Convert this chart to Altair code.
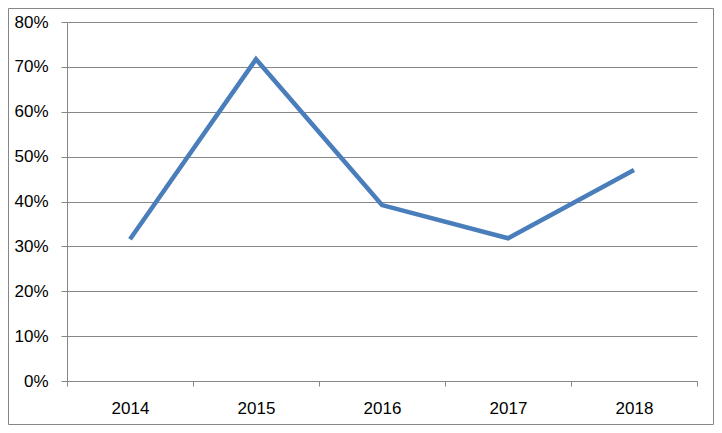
import altair as alt
import pandas as pd

years = ["2014", "2015", "2016", "2017", "2018"]
values = [0.316, 0.717, 0.392, 0.318, 0.470]

df = pd.DataFrame({"year": years, "value": values})

W, H = 630, 359
PL, PT, PR, PB = 59, 14, 17, 44
GRAY = "#868686"
FONT = "Liberation Sans"

x = alt.X(
    "year:N",
    sort=years,
    bandPosition=0.5,
    scale=alt.Scale(type="band", paddingInner=0, paddingOuter=0),
    axis=alt.Axis(
        title=None, tickBand="extent", tickSize=5, tickColor=GRAY,
        domainColor=GRAY, labelAngle=0, labelPadding=14, grid=False,
        labelFontSize=17, labelFont=FONT, labelColor="#000000",
    ),
)
y = alt.Y(
    "value:Q",
    scale=alt.Scale(domain=[0, 0.8], nice=False),
    axis=alt.Axis(
        title=None, format=".0%", values=[0, 0.1, 0.2, 0.3, 0.4, 0.5, 0.6, 0.7, 0.8],
        tickSize=6, tickColor=GRAY, domainColor=GRAY, gridColor=GRAY,
        labelPadding=13, labelFontSize=17, labelFont=FONT, labelColor="#000000",
    ),
)

line = alt.Chart(df).mark_line(color="#4A7EBB", strokeWidth=4.5, strokeJoin="miter").encode(x=x, y=y)

border = alt.Chart(pd.DataFrame({"a": [0]})).mark_rect(
    fill=None, stroke=GRAY, strokeWidth=1
).encode(
    x=alt.value(-PL + 0.5), x2=alt.value(W + PR - 0.5),
    y=alt.value(-PT + 0.5), y2=alt.value(H + PB - 0.5),
)

chart = alt.layer(line, border).properties(
    width=W, height=H,
    autosize=alt.AutoSizeParams(type="none"),
    padding={"left": PL, "top": PT, "right": PR, "bottom": PB},
    background="white",
).configure_view(stroke=None)

chart.save("out.html", embed_options={"renderer": "svg", "actions": False})
